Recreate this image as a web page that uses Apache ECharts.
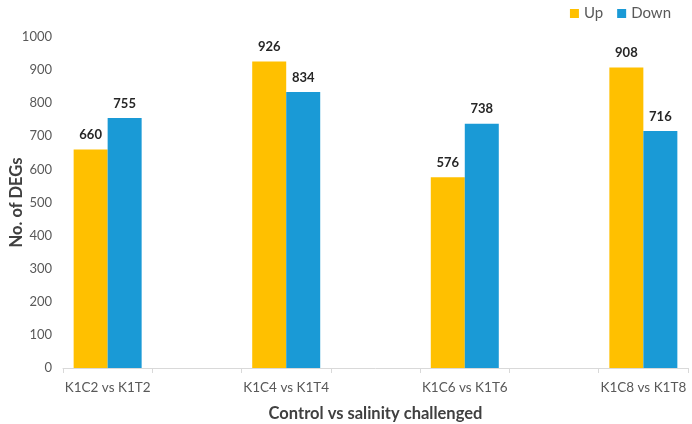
<!DOCTYPE html>
<html>
<head>
<meta charset="utf-8">
<script src="https://cdn.jsdelivr.net/npm/echarts@6/dist/echarts.min.js"></script>
<style>
  html, body { margin: 0; padding: 0; background: #fff; }
  #chart { width: 692px; height: 424px; }
</style>
</head>
<body>
<div id="chart"></div>
<script>
// DATA (empty slots keep the spacing between comparisons)
const categories = ['K1C2 vs K1T2', '', 'K1C4 vs K1T4', '', 'K1C6 vs K1T6', '', 'K1C8 vs K1T8']
const upValues = [660, null, 926, null, 576, null, 908]
const downValues = [755, null, 834, null, 738, null, 716]
const yTicks = { min: 0, max: 1000, interval: 100 }

const font = 'Lato, "Open Sans", sans-serif'

const barSeries = (name, data, color) => ({
  name,
  type: 'bar',
  data,
  barWidth: 34,
  barGap: '0%',
  itemStyle: { color },
  label: {
    show: true,
    position: 'top',
    distance: 8,
    fontFamily: font,
    fontSize: 13,
    fontWeight: 'bold',
    color: '#262626'
  }
})

const chart = echarts.init(document.getElementById('chart'))
chart.setOption({
  animation: false,
  textStyle: { fontFamily: font },
  legend: {
    top: 1,
    right: 16,
    itemWidth: 9,
    itemHeight: 9,
    itemGap: 14,
    icon: 'rect',
    textStyle: { fontSize: 15, color: '#595959', fontFamily: font }
  },
  grid: { left: 63, right: 4, top: 37, bottom: 56, containLabel: false, outerBoundsMode: 'none' },
  xAxis: {
    type: 'category',
    data: categories,
    name: 'Control vs salinity challenged',
    nameLocation: 'middle',
    nameGap: 37,
    nameMoveOverlap: false,
    nameTextStyle: { fontSize: 16.5, fontWeight: 'bold', color: '#404040', fontFamily: font },
    axisLine: { lineStyle: { color: '#d9d9d9' } },
    axisTick: { show: true, alignWithLabel: false, length: 5, lineStyle: { color: '#d9d9d9' } },
    axisLabel: { interval: 0, fontSize: 13.5, color: '#595959', margin: 13, fontFamily: font }
  },
  yAxis: {
    type: 'value',
    min: yTicks.min,
    max: yTicks.max,
    interval: yTicks.interval,
    name: 'No. of DEGs',
    nameLocation: 'middle',
    nameGap: 38,
    nameMoveOverlap: false,
    nameTextStyle: { fontSize: 16.5, fontWeight: 'bold', color: '#404040', fontFamily: font },
    axisLine: { show: false },
    axisTick: { show: false },
    splitLine: { show: false },
    axisLabel: { fontSize: 13, color: '#595959', margin: 11, fontFamily: font, formatter: v => String(v) }
  },
  series: [
    barSeries('Up', upValues, '#FFC000'),
    barSeries('Down', downValues, '#1A9AD6')
  ]
})
</script>
</body>
</html>
